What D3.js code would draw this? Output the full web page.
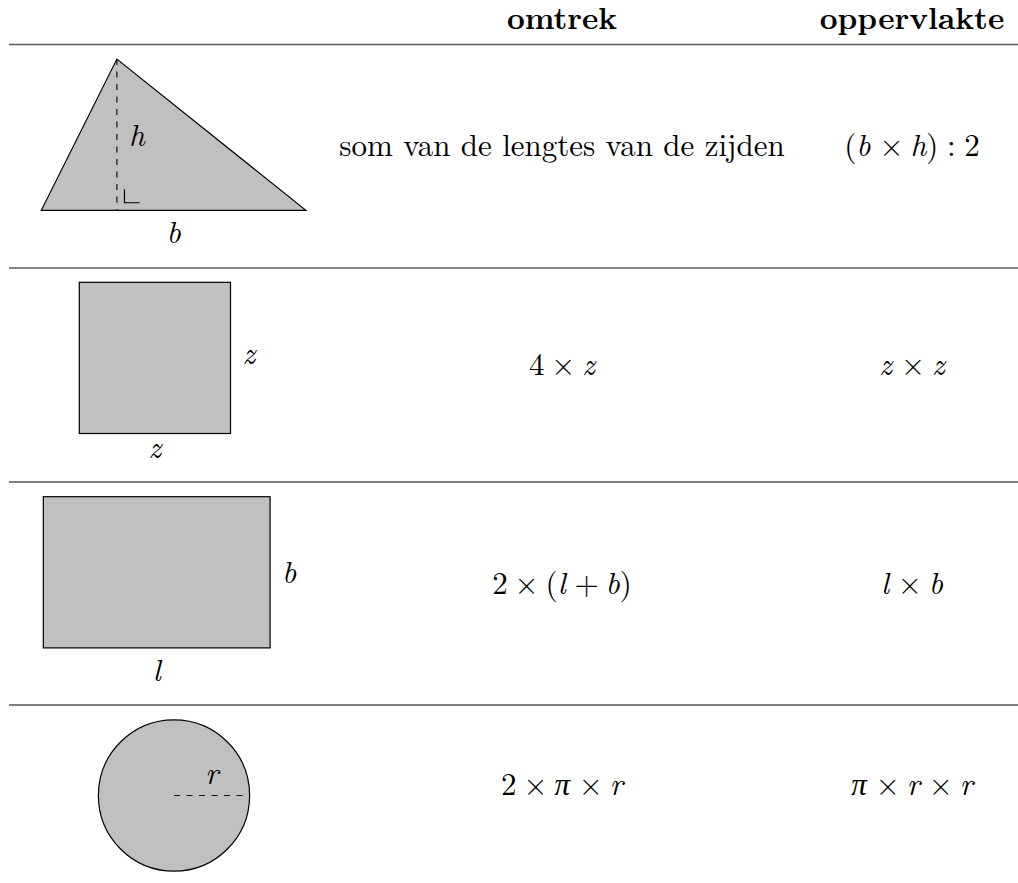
<!DOCTYPE html>
<html>
<head>
<meta charset="utf-8">
<script src="https://d3js.org/d3.v7.min.js"></script>
<style>
	body { margin: 0; background: #fff; }
	.shape { fill: #c0c0c0; stroke: #000; stroke-width: 1.2; }
	.dash { fill: none; stroke: #111; stroke-width: 1.2; stroke-dasharray: 6,6.5; }
	.tick { fill: none; stroke: #000; stroke-width: 1.2; }
</style>
</head>
<body>
<div class="table"></div>
<script>
/*
----------------------------------------------------------
                   the data
----------------------------------------------------------
*/
var headers      = ["omtrek", "oppervlakte"];
var shapes       = ["driehoek", "vierkant", "rechthoek", "cirkel"];
var omtrek       = ["som van de lengtes van de zijden", "4 × z", "2 × (l + b)", "2 × π × r"];
var oppervlakte  = ["(b × h) : 2", "z × z", "l × b", "π × r × r"];
var omtrekIsMath = [false, true, true, true];

// shape sizes, in centimetres as in the drawing
var triangle   = [7, 4, 2];      // base b, height h, foot of the height
var squareSide = [4];
var rectSides  = [6, 4];         // l, b
var circleR    = [2];

/*
----------------------------------------------------------
                   the page
----------------------------------------------------------
*/
var width = 1018, height = 883;
var serif = "'Latin Modern Roman', 'Liberation Serif', serif";
var fontSize = 31;
var cm = d3.scaleLinear().domain([0, 1]).range([0, 37.8]);
var colX = d3.scaleOrdinal().domain(headers).range([562, 912]);
var rules = [44.5, 268, 482, 705];
var rowMid = [156, 375, 594, 795];

var svg = d3.select(".table").append("svg")
	.attr("width", width)
	.attr("height", height);

function txt(x, y, anchor) {
	return svg.append("text")
		.attr("x", x)
		.attr("y", y)
		.attr("text-anchor", anchor || "middle")
		.style("font-family", serif)
		.style("font-size", fontSize + "px")
		.style("fill", "#000");
}

// horizontal rules
svg.selectAll(".rule").data(rules).enter()
	.append("line")
		.attr("class", "rule")
		.attr("x1", 9).attr("x2", width)
		.attr("y1", function(d) { return d; })
		.attr("y2", function(d) { return d; })
		.attr("stroke", function(d, i) { return i < 2 ? "#5a5a5a" : "#000"; })
		.attr("stroke-width", function(d, i) { return i < 2 ? 1.7 : 1.2; });

// column headers
headers.forEach(function(h) {
	txt(colX(h), 29).style("font-weight", "bold").text(h);
});

// write a formula, variables in italic, operators with math spacing
function formula(sel, str) {
	var vars = "bhzlrπ";
	var toks = str.split(" ");
	toks.forEach(function(tok, k) {
		tok.split("").forEach(function(ch, j) {
			var t = sel.append("tspan")
				.style("font-style", vars.indexOf(ch) >= 0 ? "italic" : "normal")
				.text(ch);
			if(k > 0 && j == 0) {
				var prev = toks[k - 1];
				var rel = tok == ":" || prev == ":";
				var ic = vars.indexOf(prev.charAt(prev.length - 1)) >= 0 ? 2 : 0; // italic correction
				t.attr("dx", fontSize * (rel ? 5 : 4) / 18 + ic);
			}
		});
	});
}

function cell(x, y, str, isMath) {
	var t = txt(x, y);
	if(isMath) {
		formula(t, str);
	} else {
		t.text(str);
	}
	return t;
}

function label(x, y, str, anchor) {
	txt(x, y, anchor).style("font-style", "italic").text(str);
}

shapes.forEach(function(s, i) {
	cell(colX("omtrek"), rowMid[i], omtrek[i], omtrekIsMath[i]);
	cell(colX("oppervlakte"), rowMid[i], oppervlakte[i], true);
});

/*
----------------------------------------------------------
                   the shapes
----------------------------------------------------------
*/
function drawTriangle(x0, y0) {
	var b = cm(triangle[0]), h = cm(triangle[1]), f = cm(triangle[2]);
	var g = svg.append("g").attr("transform", "translate(" + x0 + "," + y0 + ")");
	var path = d3.path();
	path.moveTo(0, 0);
	path.lineTo(b, 0);
	path.lineTo(f, -h);
	path.closePath();
	g.append("path").attr("class", "shape").attr("d", path.toString());
	g.append("line").attr("class", "dash")
		.attr("x1", f).attr("x2", f).attr("y1", -h).attr("y2", 0);
	var m = d3.path();
	m.moveTo(f + cm(0.2), -cm(0.56));
	m.lineTo(f + cm(0.2), -cm(0.2));
	m.lineTo(f + cm(0.6), -cm(0.2));
	g.append("path").attr("class", "tick").attr("d", m.toString());
	label(x0 + b / 2, y0 + 33, "b");
	label(x0 + f + 12, y0 - h / 2 + 11, "h", "start");
}

function drawRect(x0, y0, w, hgt, bottomLabel, sideLabel, sideDy) {
	svg.append("rect").attr("class", "shape")
		.attr("x", x0).attr("y", y0)
		.attr("width", cm(w)).attr("height", cm(hgt));
	label(x0 + cm(w) / 2, y0 + cm(hgt) + (bottomLabel == "z" ? 24 : 33), bottomLabel);
	label(x0 + cm(w) + 12, y0 + cm(hgt) / 2 + sideDy, sideLabel, "start");
}

function drawCircle(cx, cy) {
	var r = cm(circleR[0]);
	svg.append("circle").attr("class", "shape")
		.attr("cx", cx).attr("cy", cy).attr("r", r);
	svg.append("line").attr("class", "dash")
		.attr("x1", cx).attr("x2", cx + r).attr("y1", cy).attr("y2", cy);
	label(cx + r / 2, cy - 12, "r");
}

drawTriangle(41.3, 210.3);
drawRect(79.3, 282.3, squareSide[0], squareSide[0], "z", "z", 6);
drawRect(43.3, 496.7, rectSides[0], rectSides[1], "l", "b", 11);
drawCircle(174, 795.5);
</script>
</body>
</html>
